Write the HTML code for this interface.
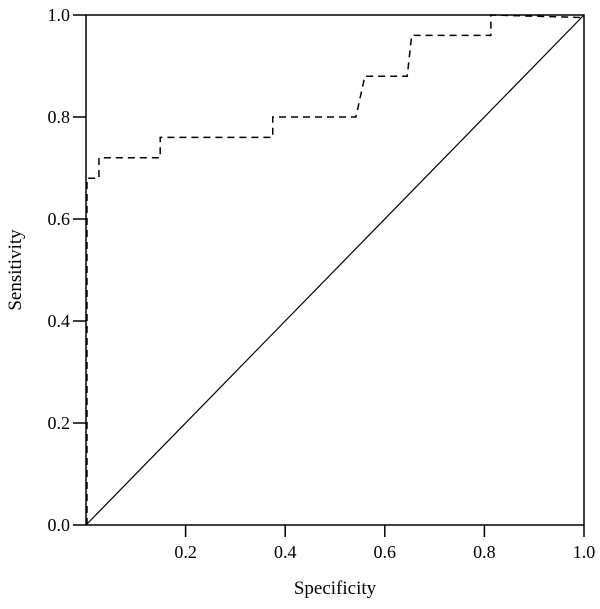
<!DOCTYPE html>
<html><head><meta charset="utf-8"><style>
html,body{margin:0;padding:0;background:#fff}
svg text{font-family:"Liberation Serif",serif;fill:#000}
</style></head><body>
<svg id="chart" width="600" height="604" viewBox="0 0 600 604"></svg>
<script>
const specX = [0.002,0.002,0.026,0.026,0.149,0.149,0.375,0.375,0.542,0.56,0.645,0.654,0.813,0.813,1.0];
const sensY = [0.0,0.68,0.68,0.72,0.72,0.76,0.76,0.80,0.80,0.88,0.88,0.96,0.96,1.0,0.995];
const xTicks = [0.2,0.4,0.6,0.8,1.0];
const xTickLabels = ["0.2","0.4","0.6","0.8","1.0"];
const yTicks = [0.0,0.2,0.4,0.6,0.8,1.0];
const yTickLabels = ["0.0","0.2","0.4","0.6","0.8","1.0"];

const svg = document.getElementById('chart');
const NS = 'http://www.w3.org/2000/svg';
const X0=86, X1=584, Y0=525, Y1=15;
const sx = v => X0 + v*(X1-X0);
const sy = v => Y0 - v*(Y0-Y1);
function mk(tag, attrs){const e=document.createElementNS(NS,tag);for(const k in attrs)e.setAttribute(k,attrs[k]);svg.appendChild(e);return e;}

const frame = mk('rect',{x:X0,y:Y1,width:X1-X0,height:Y0-Y1,fill:'none',stroke:'#000','stroke-width':1.5});



yTicks.forEach((t,i)=>{
  const l = mk('line',{x1:X0-13,x2:X0,y1:sy(t),y2:sy(t),stroke:'#000','stroke-width':1.5});
  
  
  const tx = mk('text',{x:X0-16,y:sy(t)+6,'text-anchor':'end','font-size':18});
  tx.textContent = yTickLabels[i];
  
  
});
xTicks.forEach((t,i)=>{
  const l = mk('line',{x1:sx(t),x2:sx(t),y1:Y0,y2:Y0+12,stroke:'#000','stroke-width':1.5});
  
  
  const tx = mk('text',{x:sx(t),y:Y0+33,'text-anchor':'middle','font-size':18});
  tx.textContent = xTickLabels[i];
  
  
});

const diag = mk('line',{x1:sx(0),y1:sy(0),x2:sx(1),y2:sy(1),stroke:'#000','stroke-width':1.2});



const pts = specX.map((v,i)=>sx(v)+','+sy(sensY[i])).join(' ');
const roc = mk('polyline',{points:pts,fill:'none',stroke:'#000','stroke-width':1.5,'stroke-dasharray':'7,5'});



const xl = mk('text',{x:(X0+X1)/2,y:594,'text-anchor':'middle','font-size':19});
xl.textContent='Specificity';


const yl = mk('text',{x:0,y:0,'text-anchor':'middle','font-size':19,transform:'translate(21,'+((Y0+Y1)/2)+') rotate(-90)'});
yl.textContent='Sensitivity';


</script>
</body></html>
